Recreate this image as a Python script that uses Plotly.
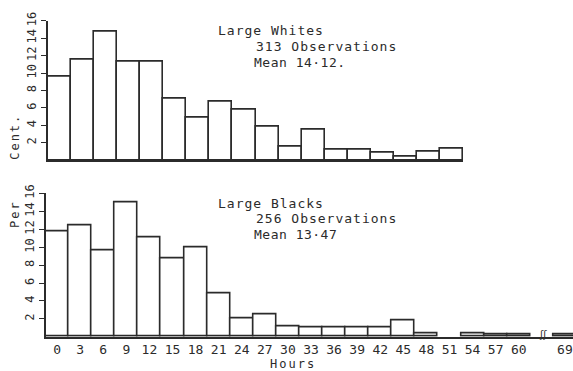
import plotly.graph_objects as go

# ---- data ----
whites_hours = ["0", "3", "6", "9", "12", "15", "18", "21", "24", "27",
                "30", "33", "36", "39", "42", "45", "48", "51"]
whites_pct = [9.6, 11.5, 14.7, 11.3, 11.3, 7.1, 4.9, 6.7, 5.8, 3.9,
              1.6, 3.5, 1.2, 1.2, 0.9, 0.4, 1.0, 1.3]

blacks_hours = ["0", "3", "6", "9", "12", "15", "18", "21", "24", "27",
                "30", "33", "36", "39", "42", "45", "48", "51",
                "54", "57", "60", " ", "69"]
blacks_pct = [11.8, 12.4, 9.6, 15.0, 11.1, 8.8, 10.0, 4.8, 2.1, 2.5,
              1.2, 1.1, 1.1, 1.1, 1.0, 1.8, 0.4, None,
              0.4, 0.3, 0.3, None, 0.3]

y_ticks = [2, 4, 6, 8, 10, 12, 14, 16]

W, H = 573, 371
INK = "#2b2b2b"
MONO = "DejaVu Sans Mono"

def px_x(v):
    return v / W

def px_y(v):
    return (H - v) / H

fig = go.Figure()

bar_style = dict(marker=dict(color="white", line=dict(color=INK, width=1.6)),
                 width=1.0, showlegend=False, hoverinfo="x+y")

fig.add_trace(go.Bar(x=whites_hours, y=whites_pct, xaxis="x", yaxis="y", **bar_style))
fig.add_trace(go.Bar(x=blacks_hours, y=blacks_pct, xaxis="x2", yaxis="y2", **bar_style))

yax = dict(range=[0, 16], tickvals=y_ticks, ticktext=[str(v) for v in y_ticks],
           tickangle=-90, ticks="outside", ticklen=5, tickwidth=1.3, tickcolor=INK,
           showline=True, linecolor=INK, linewidth=1.6, showgrid=False, zeroline=False,
           tickfont=dict(family=MONO, size=12, color=INK), fixedrange=True)

fig.update_layout(
    width=W, height=H,
    margin=dict(l=0, r=0, t=0, b=0),
    paper_bgcolor="white", plot_bgcolor="white",
    bargap=0,
    xaxis=dict(domain=[px_x(48), px_x(463)], anchor="y", type="category",
               categoryorder="array", categoryarray=whites_hours,
               range=[-0.5, 17.5], showticklabels=False, ticks="",
               showline=True, linecolor=INK, linewidth=1.6, showgrid=False,
               zeroline=False),
    yaxis=dict(domain=[px_y(155), px_y(12)], anchor="x", **yax),
    xaxis2=dict(domain=[px_x(45.5), 1.0], anchor="y2", type="category",
                categoryorder="array", categoryarray=blacks_hours,
                range=[-0.5, 22.35], ticks="", showline=True, linecolor=INK,
                linewidth=1.6, showgrid=False, zeroline=False, ticklabelstandoff=0,
                tickfont=dict(family=MONO, size=13, color=INK)),
    yaxis2=dict(domain=[px_y(336), px_y(189)], anchor="x2", **yax),
)

def note(text, x, y, size=13, anchor="left", angle=0, family=MONO, spacing=0):
    if spacing:
        text = f'<span style="letter-spacing:{spacing}px">{text}</span>'
    fig.add_annotation(text=text, x=px_x(x), y=px_y(y), xref="paper", yref="paper",
                       xanchor=anchor, yanchor="middle", showarrow=False,
                       textangle=angle, font=dict(family=family, size=size, color=INK))

note("Large Whites", 216, 22, spacing=1)
note("313 Observations", 254, 38, spacing=1)
note("Mean 14·12.", 252, 55, spacing=0.5)
note("Large Blacks", 216, 199, spacing=1)
note("256 Observations", 254, 215, spacing=1)
note("Mean 13·47", 252, 231, spacing=0.5)
note("Cent.", 15, 131, size=12, anchor="center", angle=-90, spacing=2)
note("Per", 15, 210, size=12, anchor="center", angle=-90, spacing=2)
note("Hours", 293, 364, size=12, anchor="center", spacing=2)
note("ʃʃ", 543, 334, size=10, anchor="center", family="DejaVu Sans")

fig.write_html("out.html")
